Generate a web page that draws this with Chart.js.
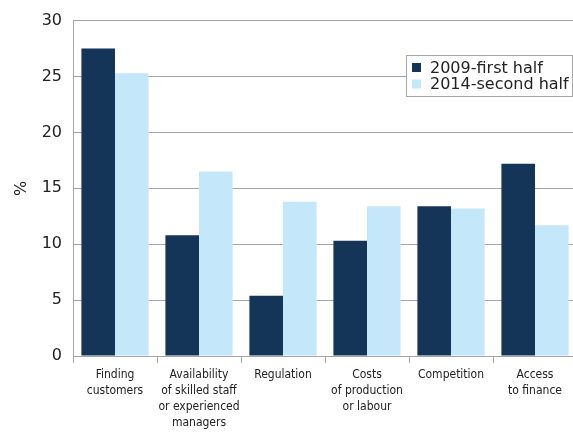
<!DOCTYPE html>
<html>
<head>
<meta charset="utf-8">
<script src="https://cdn.jsdelivr.net/npm/chart.js@4.4.1/dist/chart.umd.min.js"></script>
<style>
  html, body { margin: 0; padding: 0; background: #fff; overflow: hidden; }
  #wrap { width: 577px; height: 432px; position: relative; }
</style>
</head>
<body>
<div id="wrap"><canvas id="c"></canvas></div>
<script>
const categories = [
  ["Finding", "customers"],
  ["Availability", "of skilled staff", "or experienced", "managers"],
  ["Regulation"],
  ["Costs", "of production", "or labour"],
  ["Competition"],
  ["Access", "to finance"]
];
const seriesLabels = ["2009-first half", "2014-second half"];
const series2009 = [27.5, 10.8, 5.4, 10.3, 13.4, 17.2];
const series2014 = [25.3, 16.5, 13.8, 13.4, 13.2, 11.7];
const yTickValues = [0, 5, 10, 15, 20, 25, 30];
const yTitle = "%";

const DARK = "#153558";
const LIGHT = "#c5e7fa";
const GRID = "#a6a6a6";
const TEXT = "#222222";

const boxLegend = {
  id: "boxLegend",
  afterDraw(chart) {
    const ctx = chart.ctx;
    const x = 406.5, y = 55.5, w = 166, h = 41;
    ctx.save();
    ctx.fillStyle = "#ffffff";
    ctx.fillRect(x, y, w, h);
    ctx.strokeStyle = GRID;
    ctx.lineWidth = 1;
    ctx.strokeRect(x, y, w, h);
    ctx.font = "16px 'DejaVu Sans'";
    ctx.textBaseline = "middle";
    chart.data.datasets.forEach((ds, i) => {
      const cy = 67.5 + i * 16.5;
      ctx.fillStyle = ds.backgroundColor;
      ctx.fillRect(412, cy - 4.5, 9, 9);
      ctx.fillStyle = TEXT;
      ctx.fillText(ds.label, 430, cy + 1);
    });
    ctx.restore();
  }
};

new Chart(document.getElementById("c"), {
  type: "bar",
  data: {
    labels: categories,
    datasets: [
      { label: seriesLabels[0], data: series2009, backgroundColor: DARK },
      { label: seriesLabels[1], data: series2014, backgroundColor: LIGHT }
    ]
  },
  options: {
    responsive: true,
    maintainAspectRatio: false,
    animation: false,
    layout: { padding: { top: 19, left: 0, right: 0, bottom: 0 } },
    datasets: { bar: { categoryPercentage: 0.8, barPercentage: 1.0 } },
    plugins: { legend: { display: false }, tooltip: { enabled: false } },
    scales: {
      x: {
        grid: { offset: true, drawOnChartArea: false, drawTicks: true, tickLength: 7, color: GRID },
        border: { color: GRID },
        ticks: {
          padding: 4,
          color: TEXT,
          maxRotation: 0,
          autoSkip: false,
          font: { family: "'DejaVu Sans Condensed', 'Liberation Sans Narrow', sans-serif", size: 12, lineHeight: "16px" }
        },
        afterFit(s) { s.height = 76; }
      },
      y: {
        min: 0, max: 30,
        afterBuildTicks(s) { s.ticks = yTickValues.map(v => ({ value: v })); },
        grid: { color: GRID, drawTicks: false, lineWidth: 1 },
        border: { color: GRID },
        ticks: {
          padding: 11,
          color: TEXT,
          font: { family: "'DejaVu Sans'", size: 16 }
        },
        title: {
          display: true, text: yTitle, color: TEXT,
          font: { family: "'DejaVu Sans'", size: 16 },
          padding: { top: 12, bottom: 0 }
        },
        afterFit(s) { s.width = 73; }
      }
    }
  },
  plugins: [boxLegend]
});
</script>
</body>
</html>
